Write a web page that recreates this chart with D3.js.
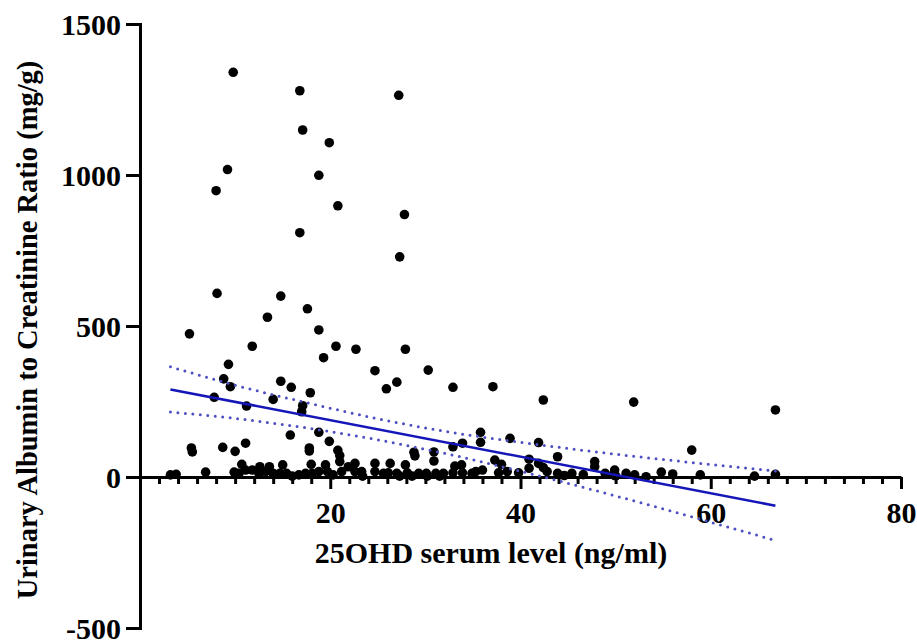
<!DOCTYPE html>
<meta charset="utf-8">
<script src="https://d3js.org/d3.v7.min.js"></script>
<style>
    body { margin: 0; background: white; }
    svg { display: block; }
    .axis text { font-family: "Liberation Serif", "Times New Roman", serif; font-weight: bold; font-size: 30px; fill: #000; }
    .axis path, .axis line { stroke: #000; stroke-width: 3; }
    .title { font-family: "Liberation Serif", "Times New Roman", serif; font-weight: bold; fill: #000; }
</style>
<body>
<div id="chart"></div>
<script>
    // 25OHD (ng/ml) and UACR (mg/g)
    var xValues = [
        9.8, 16.8, 27.2, 17.1, 19.9, 9.2, 18.8, 8.0, 20.8, 27.8, 16.8, 27.3, 8.1, 14.8, 17.6, 13.4,
        18.8, 5.2, 11.8, 20.6, 22.7, 27.9, 19.3, 24.7, 30.3, 9.3, 8.8, 14.8, 27.0, 15.9, 25.9, 9.5,
        17.9, 7.8, 14.0, 17.1, 17.0, 11.2, 32.9, 37.1, 42.4, 51.9, 66.8, 58.0, 15.8, 18.8, 19.9,
        5.4, 5.5, 8.7, 10.0, 11.1, 17.8, 17.8, 20.8, 21.0, 28.8, 28.9, 30.9, 30.9, 35.8, 35.8,
        33.9, 32.9, 38.9, 41.9, 43.9, 37.3, 38.0, 40.9, 40.9, 41.9, 42.4, 47.8, 47.8, 49.9, 27.9, 33.8,
        3.2, 3.8, 6.9, 9.9, 10.7, 10.4, 11.1, 11.8, 12.6, 12.5, 13.6, 13.2, 14.0, 15.0, 14.7, 15.4,
        16.7, 17.4, 18.0, 18.1, 18.8, 19.5, 19.7, 20.3, 21.0, 21.2, 21.9, 22.6, 22.6, 23.3, 24.7,
        24.7, 25.6, 26.3, 26.1, 27.0, 28.1, 29.3, 30.1, 31.1, 31.9, 33.1, 32.9, 33.9, 34.9, 36.0,
        35.3, 37.7, 38.6, 39.8, 42.8, 43.9, 45.4, 48.9, 49.8, 51.1, 52.0, 53.2, 54.8, 56.0, 58.9,
        64.6, 66.8, 16.0, 23.4, 27.3, 28.6, 30.2, 31.5, 44.6, 46.6, 50.0
    ];
    var yValues = [
        1340, 1279, 1264, 1149, 1107, 1018, 999, 948, 898, 869, 809, 729, 608, 599, 557, 529,
        487, 474, 433, 433, 423, 423, 395, 352, 354, 373, 325, 317, 314, 297, 292, 299,
        279, 264, 257, 236, 216, 235, 297, 299, 255, 248, 222, 89, 139, 148, 118,
        96, 83, 98, 85, 112, 96, 86, 88, 71, 82, 70, 83, 53, 148, 115,
        112, 100, 128, 114, 67, 56, 42, 59, 29, 45, 31, 51, 34, 23, 40, 40,
        7, 9, 16, 16, 42, 12, 23, 23, 34, 12, 34, 18, 12, 40, 12, 12,
        7, 12, 42, 12, 18, 40, 18, 7, 51, 18, 34, 45, 18, 18, 45,
        18, 12, 45, 14, 12, 14, 12, 12, 12, 12, 36, 14, 14, 12, 23,
        18, 14, 18, 14, 18, 12, 12, 12, 7, 12, 7, 1, 16, 10, 7,
        3, 9, 3, 3, 3, 3, 3, 3, 5, 8, 4
    ];

    // regression line and 95% band
    var fitX = [3.2, 66.8];
    var fitY = [290, -95];
    var bandX = [3.2, 10, 17.4, 25, 31.5, 40, 50.4, 58, 66.8];
    var bandUpper = [365, 304, 247, 193, 154, 115, 74, 48, 20];
    var bandLower = [215, 194, 163, 123, 82, 19, -66, -132, -210];

    var xMinorTicks = d3.range(2, 81, 2);
    var yTicks = [-500, 0, 500, 1000, 1500];

    var width = 917, height = 641;

    var x = d3.scaleLinear().domain([0, 80]).range([140, 901]);
    var y = d3.scaleLinear().domain([-500, 1500]).range([628, 24]);

    var svg = d3.select("#chart").append("svg")
        .attr("width", width)
        .attr("height", height);

    // y axis
    var yAxis = svg.append("g")
        .attr("class", "axis")
        .attr("transform", "translate(" + x(0) + ",0)")
        .call(d3.axisLeft(y).tickValues(yTicks).tickSize(14).tickSizeOuter(0).tickPadding(5)
            .tickFormat(function (d) { return String(d); }));
    yAxis.selectAll("path").attr("stroke-linecap", "square");
    yAxis.selectAll(".tick text").attr("dy", "0.34em");

    // x axis at y = 0
    var xAxis = svg.append("g")
        .attr("class", "axis")
        .attr("transform", "translate(0," + y(0) + ")")
        .call(d3.axisBottom(x).tickValues(xMinorTicks).tickSize(7).tickSizeOuter(0)
            .tickFormat(function (d) { return d % 20 === 0 ? String(d) : ""; }));
    xAxis.selectAll(".tick line")
        .attr("y2", function (d) { return d % 20 === 0 ? 12 : 7; });
    xAxis.selectAll(".tick text").attr("y", 25);

    // points
    var pts = xValues.map(function (d, i) { return [d, yValues[i]]; });
    svg.append("g").selectAll("circle")
        .data(pts)
        .enter().append("circle")
        .attr("cx", function (d) { return x(d[0]); })
        .attr("cy", function (d) { return y(d[1]); })
        .attr("r", 4.8)
        .attr("fill", "#000");

    // confidence band (dotted)
    var band = d3.line()
        .x(function (d) { return x(d[0]); })
        .y(function (d) { return y(d[1]); })
        .curve(d3.curveMonotoneX);

    [bandUpper, bandLower].forEach(function (b) {
        svg.append("path")
            .datum(bandX.map(function (d, i) { return [d, b[i]]; }))
            .attr("d", band)
            .attr("fill", "none")
            .attr("stroke", "#4f4fc4")
            .attr("stroke-width", 3)
            .attr("stroke-linecap", "round")
            .attr("stroke-dasharray", "0 7.5");
    });

    // regression line
    svg.append("path")
        .datum(fitX.map(function (d, i) { return [d, fitY[i]]; }))
        .attr("d", band)
        .attr("fill", "none")
        .attr("stroke", "#1515b8")
        .attr("stroke-width", 2.5);

    // titles
    svg.append("text")
        .attr("class", "title")
        .attr("x", 491)
        .attr("y", 563)
        .attr("text-anchor", "middle")
        .style("font-size", "30px")
        .text("25OHD serum level (ng/ml)");

    svg.append("text")
        .attr("class", "title")
        .attr("transform", "translate(37,330) rotate(-90)")
        .attr("text-anchor", "middle")
        .style("font-size", "28.5px")
        .text("Urinary Albumin to Creatinine Ratio (mg/g)");
</script>
</body>
